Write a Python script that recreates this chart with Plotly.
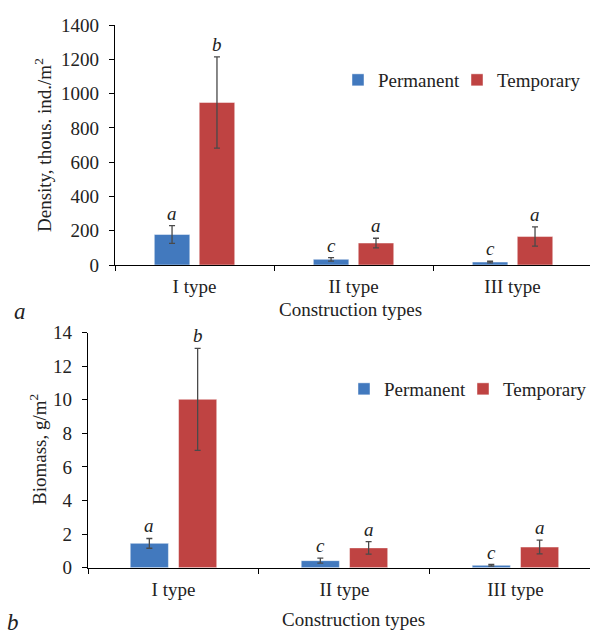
import plotly.graph_objects as go

categories = ["I type", "II type", "III type"]
letters_perm = ["a", "c", "c"]
letters_temp = ["b", "a", "a"]

density_perm = [178, 33, 17]
density_perm_err = [52, 10, 5]
density_temp = [948, 128, 166]
density_temp_err = [266, 28, 56]

biomass_perm = [1.45, 0.42, 0.14]
biomass_perm_err = [0.29, 0.15, 0.05]
biomass_temp = [10.03, 1.18, 1.23]
biomass_temp_err = [3.04, 0.37, 0.41]

y1_ticks = [0, 200, 400, 600, 800, 1000, 1200, 1400]
y2_ticks = [0, 2, 4, 6, 8, 10, 12, 14]

BLUE = "#4279BE"
RED = "#BF4342"
ERR = "#4a4a4a"
FONT = "Liberation Serif"
W, H = 590, 630
GAP = 0.435
GROUPGAP = 0.21
SLOT = (1 - GAP) / 2  # width of one bar slot in category units

fig = go.Figure()


def add_panel(xa, ya, perm, perm_err, temp, temp_err, legs):
    for k, (name, vals, errs, col, grp, lets, side) in enumerate([
        ("Permanent", perm, perm_err, BLUE, "p", letters_perm, -1),
        ("Temporary", temp, temp_err, RED, "t", letters_temp, 1),
    ]):
        fig.add_trace(go.Bar(
            x=categories, y=vals, name=name, xaxis=xa, yaxis=ya,
            offsetgroup=grp, legend=legs[k], showlegend=True,
            marker=dict(color=col, line=dict(color="rgba(255,255,255,0.45)", width=1)),
            error_y=dict(type="data", array=errs, visible=True, color=ERR,
                         thickness=1.3, width=3),
        ))
        for i, (v, e, t) in enumerate(zip(vals, errs, lets)):
            fig.add_annotation(
                x=i + side * SLOT / 2, y=v + e, xref=xa, yref=ya, text=t,
                showarrow=False, xanchor="center", yanchor="bottom",
                font=dict(family=FONT, size=19, color="#222", style="italic"),
            )


add_panel("x", "y", density_perm, density_perm_err, density_temp, density_temp_err,
          ["legend", "legend2"])
add_panel("x2", "y2", biomass_perm, biomass_perm_err, biomass_temp, biomass_temp_err,
          ["legend3", "legend4"])

axis_common = dict(showline=True, linecolor="black", linewidth=1.3, ticks="outside",
                   tickcolor="black", ticklen=5, showgrid=False, zeroline=False,
                   automargin=False,
                   tickfont=dict(family=FONT, size=19, color="#222"))

leg_common = dict(orientation="h", xanchor="left", yanchor="middle",
                  font=dict(family=FONT, size=19, color="#222"), bgcolor="rgba(0,0,0,0)")

fig.update_layout(
    width=W, height=H, margin=dict(l=0, r=0, t=0, b=0, autoexpand=False),
    plot_bgcolor="white", paper_bgcolor="white",
    barmode="group", bargap=GAP, bargroupgap=GROUPGAP,
    font=dict(family=FONT, size=19, color="#222"),
    xaxis=dict(domain=[115 / W, 1], range=[-0.5, 2.487], anchor="y",
               tickson="boundaries", ticklabelstandoff=4, **axis_common),
    yaxis=dict(domain=[(H - 265) / H, (H - 25) / H], range=[0, 1400], anchor="x",
               tickvals=y1_ticks, ticklabelstandoff=6, **axis_common),
    xaxis2=dict(domain=[88 / W, 1], range=[-0.5, 2.436], anchor="y2",
                tickson="boundaries", ticklabelstandoff=4, **axis_common),
    yaxis2=dict(domain=[(H - 567.7) / H, (H - 332.7) / H], range=[0, 14], anchor="x2",
                tickvals=y2_ticks, ticklabelstandoff=6, **axis_common),
    legend=dict(x=338 / W, y=(H - 80) / H, **leg_common),
    legend2=dict(x=457 / W, y=(H - 80) / H, **leg_common),
    legend3=dict(x=344 / W, y=(H - 389) / H, **leg_common),
    legend4=dict(x=463 / W, y=(H - 389) / H, **leg_common),
    showlegend=True,
)

ann = [
    dict(text="Construction types", x=351 / W, y=(H - 309) / H),
    dict(text="Construction types", x=353 / W, y=(H - 619) / H),
    dict(text="Density, thous. ind./m<sup>2</sup>", x=43 / W, y=(H - 145) / H, textangle=-90),
    dict(text="Biomass, g/m<sup>2</sup>", x=38 / W, y=(H - 450) / H, textangle=-90),
    dict(text="<i>a</i>", x=20 / W, y=(H - 311) / H, font=dict(family=FONT, size=23, color="#222")),
    dict(text="<i>b</i>", x=13 / W, y=(H - 622) / H, font=dict(family=FONT, size=23, color="#222")),
]
for a in ann:
    a.setdefault("font", dict(family=FONT, size=19, color="#222"))
    fig.add_annotation(xref="paper", yref="paper", showarrow=False,
                       xanchor="center", yanchor="middle", **a)

fig.write_html("out.html", config={"displayModeBar": False},
               post_script="document.body.style.margin='0';")
